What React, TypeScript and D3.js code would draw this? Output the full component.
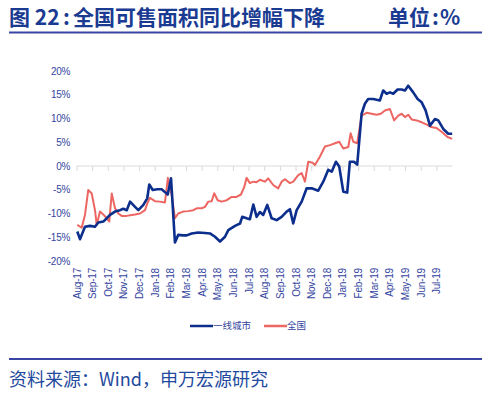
import React from "react";
import * as d3 from "d3";

// Month labels (tick at each month start, offset 0 = Aug-2017)
const monthLabels = [
  "Aug-17", "Sep-17", "Oct-17", "Nov-17", "Dec-17", "Jan-18", "Feb-18", "Mar-18",
  "Apr-18", "May-18", "Jun-18", "Jul-18", "Aug-18", "Sep-18", "Oct-18", "Nov-18",
  "Dec-18", "Jan-19", "Feb-19", "Mar-19", "Apr-19", "May-19", "Jun-19", "Jul-19",
];
const yTicks = [20, 15, 10, 5, 0, -5, -10, -15, -20];

// 一线城市 (months since Aug-2017, YoY %)
const tier1Months = [
  0.02, 0.19, 0.51, 0.83, 1.15, 1.36, 1.68, 1.9, 2.11, 2.43, 2.75, 2.96, 3.18, 3.39, 3.71, 3.92,
  4.24, 4.49, 4.62, 4.84, 5.13, 5.41, 5.62, 5.8, 6.01, 6.26, 6.47, 6.79, 7.01, 7.33, 7.75, 8.18,
  8.5, 8.82, 9.14, 9.46, 9.67, 10.1, 10.42, 10.56, 10.84, 11.05, 11.27, 11.48, 11.69, 11.9, 12.16,
  12.44, 12.76, 13.08, 13.4, 13.61, 13.82, 14.04, 14.36, 14.68, 15.0, 15.42, 15.74, 16.06, 16.28,
  16.55, 16.76, 17.02, 17.27, 17.44, 17.7, 17.91, 18.19, 18.4, 18.61, 18.93, 19.36, 19.57, 19.79,
  20.0, 20.21, 20.49, 20.75, 20.96, 21.17, 21.49, 21.77, 22.03, 22.28, 22.56, 22.88, 23.09, 23.41,
  23.73, 23.98,
];
const tier1Values = [
  -13.8, -15.4, -12.8, -12.6, -12.8, -11.9, -11.7, -11.0, -10.3, -9.6, -9.3, -9.0, -9.3, -7.5, -8.6, -9.3,
  -8.2, -6.8, -3.9, -5.05, -4.9, -4.9, -5.5, -6.0, -2.6, -16.1, -14.5, -14.6, -14.6, -14.2, -14.0, -14.1,
  -14.2, -14.9, -15.9, -14.9, -13.5, -12.6, -12.1, -10.7, -11.0, -11.2, -8.1, -10.7, -9.7, -10.3, -8.2,
  -11.0, -11.4, -10.7, -9.6, -9.1, -12.1, -9.3, -7.5, -4.7, -4.7, -5.2, -3.3, -0.8, -1.2,
  0.9, -0.1, -5.4, -5.6, 0.9, 0.9, 0.3, 11.0, 13.1, 14.1, 14.1, 13.8, 15.9, 15.2,
  15.5, 15.2, 16.1, 16.1, 15.9, 16.9, 15.5, 14.1, 13.4, 11.7, 8.5, 9.9, 9.6, 7.8,
  6.8, 6.8,
];

// 全国
const nationMonths = [
  0.02, 0.3, 0.51, 0.72, 0.94, 1.15, 1.26, 1.47, 1.68, 1.9, 2.06, 2.22, 2.43, 2.64, 2.86, 3.18,
  3.5, 3.71, 4.03, 4.35, 4.49, 4.66, 4.98, 5.3, 5.62, 5.81, 6.05, 6.26, 6.47, 6.79, 7.11, 7.43,
  7.65, 7.97, 8.18, 8.39, 8.61, 8.77, 8.99, 9.25, 9.57, 9.89, 10.2, 10.48, 10.69, 10.84, 11.05,
  11.27, 11.48, 11.69, 12.01, 12.22, 12.54, 12.86, 13.08, 13.29, 13.61, 13.82, 14.14, 14.36, 14.57,
  14.78, 15.06, 15.21, 15.53, 15.85, 16.17, 16.49, 16.76, 17.02, 17.34, 17.49, 17.66, 17.91, 18.19,
  18.51, 18.83, 19.15, 19.42, 19.68, 20.0, 20.27, 20.53, 20.75, 20.96, 21.17, 21.39, 21.71, 22.03,
  22.36, 22.63, 22.98, 23.34, 23.68, 23.98,
];
const nationValues = [
  -12.4, -13.0, -10.3, -5.05, -5.8, -9.3, -12.4, -9.6, -10.2, -11.0, -11.7, -5.8, -8.9, -10.0, -10.5, -10.5,
  -10.3, -10.2, -10.0, -9.3, -7.9, -6.7, -7.4, -7.5, -7.7, -2.5, -6.1, -11.0, -10.0, -9.6, -9.5, -9.3,
  -8.9, -8.9, -8.6, -7.5, -7.4, -5.75, -7.2, -7.5, -7.2, -6.5, -6.5, -6.0, -4.4, -2.5, -3.6,
  -3.3, -3.4, -2.9, -3.3, -2.6, -4.0, -4.7, -3.3, -2.8, -3.6, -3.3, -1.9, -1.5, -3.3,
  0.9, 0.7, 0.2, 2.0, 4.1, 4.4, 4.8, 5.1, 3.7, 4.0, 6.9, 5.1, 4.8, 10.6,
  11.2, 11.0, 10.8, 11.0, 11.7, 12.0, 9.6, 10.6, 11.0, 10.3, 10.8, 9.8, 9.6, 9.2,
  8.7, 8.2, 8.0, 7.1, 6.1, 5.7,
];

const seriesNames = ["一线城市", "全国"];
const titleLead = "图 22";
const titleBody = "全国可售面积同比增幅下降";
const unitLead = "单位";
const unitTail = "%";
const sourceText = "资料来源：Wind，申万宏源研究";

const W = 490;
const H = 396;
const BLUE = "#0c2e8c";
const RED = "#ec6662";
const LABEL = "#3445a0";
const HEAD = "#1a3b91";
const CJK = "'Noto Sans CJK SC', 'Noto Sans', sans-serif";
const LATIN = "'Liberation Sans', Arial, sans-serif";

export default function App() {
  const x = d3.scaleLinear().domain([0, 24]).range([77, 452.5]);
  const y = d3.scaleLinear().domain([-20, 20]).range([261, 71]);

  const line = d3
    .line<[number, number]>()
    .x((d) => x(d[0]))
    .y((d) => y(d[1]));

  const tier1 = tier1Months.map((m, i) => [m, tier1Values[i]] as [number, number]);
  const nation = nationMonths.map((m, i) => [m, nationValues[i]] as [number, number]);

  const labelTop = 268;

  return (
    <svg
      width={W}
      height={H}
      style={{ position: "absolute", left: 0, top: 0, background: "#fff" }}
    >
      {/* header */}
      <text y={25} fontFamily={CJK} fontWeight="bold" fontSize={21} fill={HEAD}>
        <tspan x={9}>{titleLead}</tspan>
        <tspan x={63}>:</tspan>
        <tspan x={73}>{titleBody}</tspan>
      </text>
      <text y={25} fontFamily={CJK} fontWeight="bold" fontSize={21} fill={HEAD}>
        <tspan x={388}>{unitLead}</tspan>
        <tspan x={432}>:</tspan>
        <tspan x={440}>{unitTail}</tspan>
      </text>
      <line x1={9} x2={482} y1={32.5} y2={32.5} stroke="#3a44a2" strokeWidth={2} />

      {/* y labels */}
      {yTicks.map((t) => (
        <text
          key={t}
          x={70}
          y={y(t)}
          dy="0.35em"
          textAnchor="end"
          fontFamily={LATIN}
          fontSize={10}
          letterSpacing={-0.3}
          fill={LABEL}
        >
          {`${t}%`}
        </text>
      ))}

      {/* zero axis */}
      <line x1={x(0)} x2={x(24)} y1={y(0)} y2={y(0)} stroke="#d9d9d9" strokeWidth={1} />
      {monthLabels.map((_, i) => (
        <line
          key={i}
          x1={x(i)}
          x2={x(i)}
          y1={y(0)}
          y2={y(0) + 5}
          stroke="#d9d9d9"
          strokeWidth={1}
        />
      ))}

      {/* x labels */}
      {monthLabels.map((lab, i) => (
        <text
          key={lab}
          transform={`translate(${x(i)},${labelTop}) rotate(-90)`}
          dy="0.35em"
          textAnchor="end"
          fontFamily={LATIN}
          fontSize={10}
          letterSpacing={-0.2}
          fill={LABEL}
        >
          {lab}
        </text>
      ))}

      {/* series */}
      <path d={line(nation) || ""} fill="none" stroke={RED} strokeWidth={2} strokeLinejoin="round" />
      <path d={line(tier1) || ""} fill="none" stroke={BLUE} strokeWidth={2.6} strokeLinejoin="round" />

      {/* legend */}
      <line x1={190} x2={213} y1={326} y2={326} stroke={BLUE} strokeWidth={2.5} />
      <text x={213} y={326} dy="0.35em" fontFamily={CJK} fontSize={9.5} fill={LABEL}>
        {seriesNames[0]}
      </text>
      <line x1={264} x2={287} y1={326} y2={326} stroke={RED} strokeWidth={2.5} />
      <text x={287} y={326} dy="0.35em" fontFamily={CJK} fontSize={9.5} fill={LABEL}>
        {seriesNames[1]}
      </text>

      {/* footer */}
      <line x1={9} x2={482} y1={359} y2={359} stroke="#3a44a2" strokeWidth={2} />
      <text x={9} y={386} fontFamily={CJK} fontSize={18} fill="#1f4a9e">
        {sourceText}
      </text>
    </svg>
  );
}
